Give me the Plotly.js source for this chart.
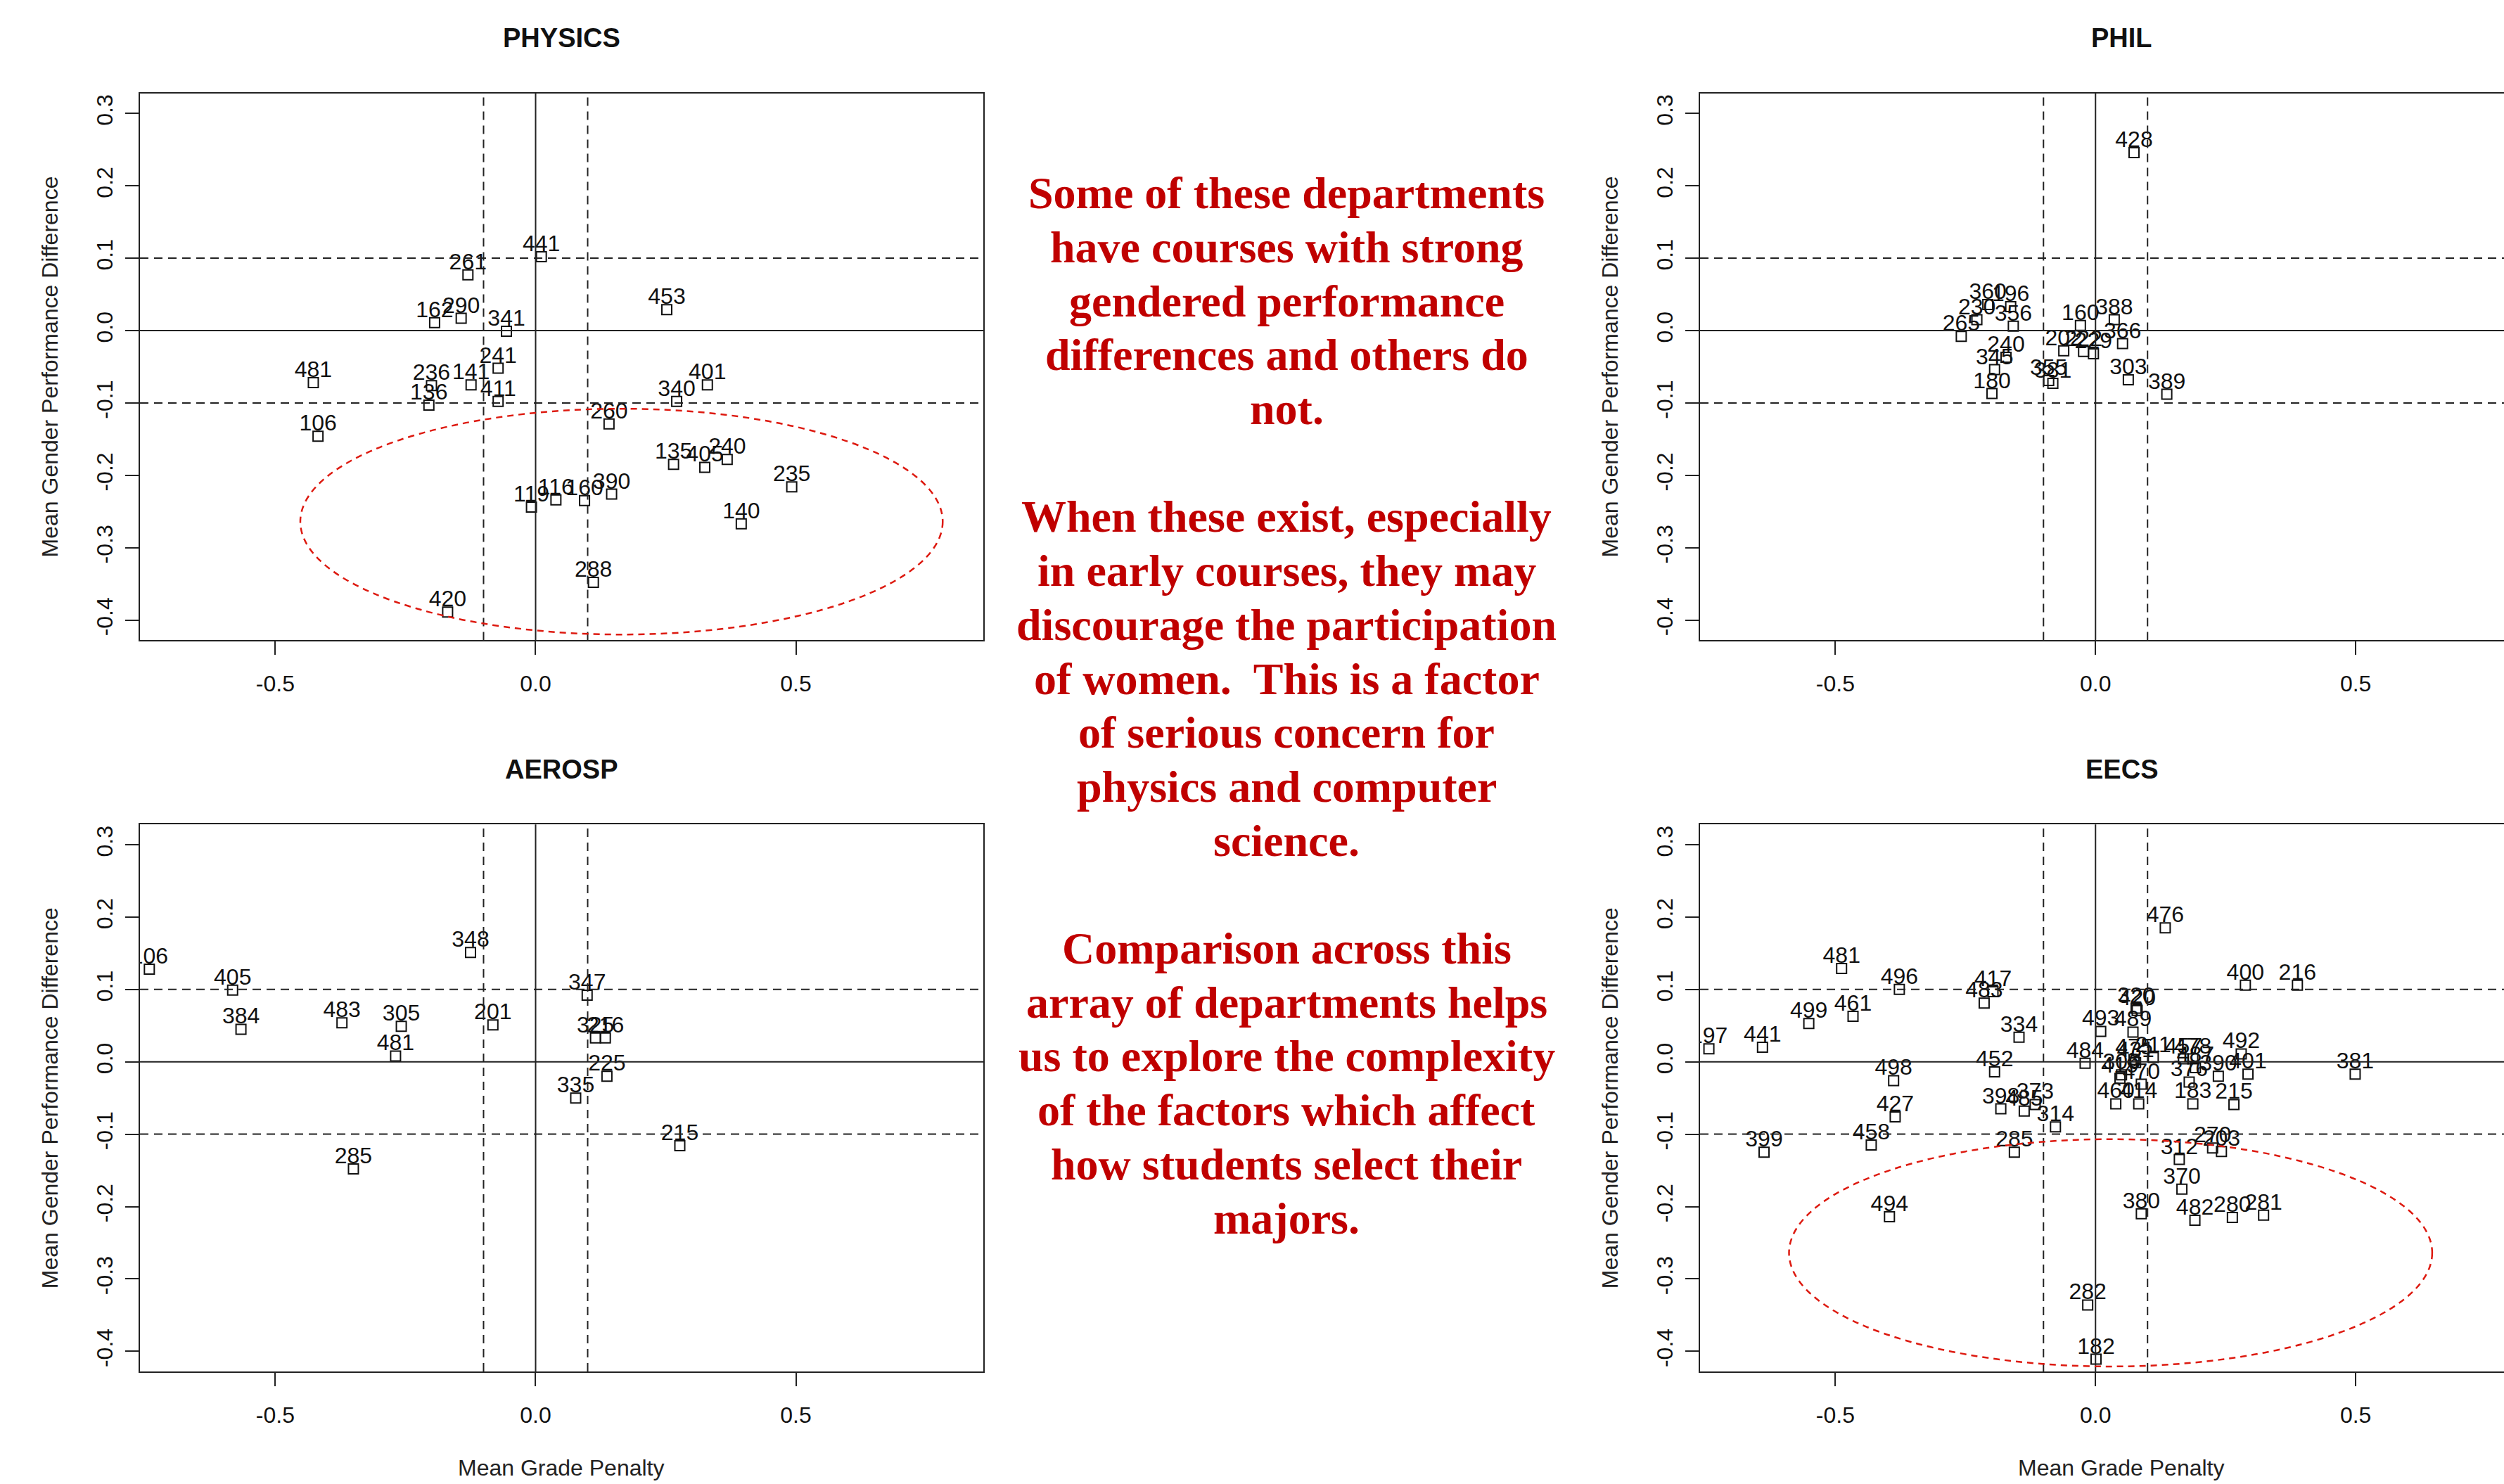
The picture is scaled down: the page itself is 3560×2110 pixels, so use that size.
<!DOCTYPE html>
<html><head><meta charset="utf-8">
<script src="https://cdn.plot.ly/plotly-3.0.1.min.js"></script>
<style>html,body{margin:0;padding:0;background:#fff;}</style>
</head><body>
<div id="chart" style="width:3560px;height:2110px;"></div>
<script>
// ---------------- data ----------------
const physicsLabels = ["441","261","162","290","341","453","241","481","236","141","136","411","106","260","340","401","135","405","240","235","140","119","116","160","390","288","420"];
const physicsX = [0.011,-0.130,-0.194,-0.143,-0.056,0.252,-0.072,-0.427,-0.200,-0.124,-0.205,-0.072,-0.418,0.141,0.271,0.330,0.265,0.325,0.368,0.492,0.395,-0.008,0.039,0.094,0.146,0.111,-0.169];
const physicsY = [0.102,0.077,0.011,0.017,-0.001,0.029,-0.052,-0.072,-0.076,-0.075,-0.103,-0.098,-0.146,-0.129,-0.098,-0.075,-0.185,-0.189,-0.178,-0.216,-0.267,-0.244,-0.234,-0.235,-0.226,-0.348,-0.389];

const philLabels = ["428","360","196","230","356","265","240","345","180","355","381","202","222","229","160","388","366","303","389"];
const philX = [0.074,-0.207,-0.163,-0.228,-0.158,-0.258,-0.172,-0.194,-0.199,-0.090,-0.082,-0.061,-0.023,-0.004,-0.029,0.036,0.052,0.063,0.137];
const philY = [0.246,0.036,0.033,0.015,0.006,-0.008,-0.037,-0.054,-0.087,-0.069,-0.073,-0.028,-0.029,-0.032,0.007,0.015,-0.018,-0.068,-0.088];

const aerospLabels = ["106","405","384","483","305","481","348","201","285","347","325","216","225","335","215"];
const aerospX = [-0.742,-0.582,-0.566,-0.372,-0.258,-0.269,-0.125,-0.082,-0.350,0.099,0.115,0.134,0.137,0.077,0.277];
const aerospY = [0.128,0.099,0.045,0.054,0.049,0.008,0.151,0.051,-0.148,0.092,0.033,0.033,-0.020,-0.050,-0.116];

const eecsLabels = ["197","441","499","481","461","496","498","427","458","399","494","417","483","334","452","398","485","373","314","285",
  "476","400","216","320","420","493","489","484","475","431","211","306","419","470","460","414","457","478","487","376",
  "183","215","390","401","492","381","312","270","203","370","380","482","280","281","282","182"];
const eecsX = [-0.743,-0.640,-0.551,-0.488,-0.466,-0.377,-0.388,-0.385,-0.431,-0.637,-0.396,-0.197,-0.214,-0.147,-0.194,-0.182,-0.137,-0.116,-0.077,-0.156,
  0.134,0.288,0.388,0.078,0.080,0.010,0.072,-0.020,0.074,0.077,0.111,0.050,0.047,0.088,0.039,0.083,0.169,0.187,0.192,0.180,
  0.187,0.266,0.236,0.293,0.280,0.499,0.161,0.225,0.242,0.166,0.088,0.191,0.263,0.323,-0.015,0.001];
const eecsY = [0.018,0.020,0.053,0.129,0.063,0.100,-0.026,-0.076,-0.115,-0.125,-0.214,0.097,0.081,0.034,-0.014,-0.065,-0.068,-0.059,-0.090,-0.125,
  0.185,0.106,0.106,0.074,0.071,0.042,0.041,-0.002,0.003,-0.001,0.006,-0.018,-0.023,-0.031,-0.058,-0.058,0.004,0.004,-0.008,-0.028,
  -0.058,-0.059,-0.020,-0.017,0.011,-0.017,-0.135,-0.119,-0.124,-0.176,-0.210,-0.219,-0.215,-0.212,-0.336,-0.411];

const panelTitles = ["PHYSICS","PHIL","AEROSP","EECS"];
const xTickVals = [-0.5, 0, 0.5];
const xTickText = ["-0.5","0.0","0.5"];
const yTickVals = [-0.4,-0.3,-0.2,-0.1,0,0.1,0.2,0.3];
const yTickText = ["-0.4","-0.3","-0.2","-0.1","0.0","0.1","0.2","0.3"];
const yAxisTitle = "Mean Gender Performance Difference";
const xAxisTitle = "Mean Grade Penalty";
const cutLines = [-0.1, 0.1];   // dashed thresholds
const zeroLines = [0];          // solid

// highlighted regions (centre x, centre y, half-width, half-height), null = none
const ellipseCx = [0.165, null, null, 0.029];
const ellipseCy = [-0.264, null, null, -0.264];
const ellipseRx = [0.617, null, null, 0.618];
const ellipseRy = [0.156, null, null, 0.157];

const noteLines = ["Some of these departments","have courses with strong","gendered performance","differences and others do","not.","",
  "When these exist, especially","in early courses, they may","discourage the participation","of women.\u00a0 This is a factor","of serious concern for","physics and computer","science.","",
  "Comparison across this","array of departments helps","us to explore the complexity","of the factors which affect","how students select their","majors."];

// ---------------- layout helpers ----------------
const W = 3560, H = 2110;
const PX = v => v / W;
const PY = v => 1 - v / H;
const SANS = "Liberation Sans, Arial, sans-serif";
const INK = "#222222";

const panelData = [
  {labels: physicsLabels, x: physicsX, y: physicsY},
  {labels: philLabels, x: philX, y: philY},
  {labels: aerospLabels, x: aerospX, y: aerospY},
  {labels: eecsLabels, x: eecsX, y: eecsY}
];
// pixel geometry of each panel
const colDom = [[199, 1398], [2417, 3560]];
const colRange = [[-0.76, 0.86], [-0.76, 0.785]];
const colCenter = [798, 3016];
const rowDom = [[132.5, 910.4], [1172.2, 1950.1]];
const rowTitleY = [54, 1094];

const traces = [];
const layout = {
  width: W, height: H,
  margin: {l: 0, r: 0, t: 0, b: 0},
  paper_bgcolor: "#ffffff", plot_bgcolor: "#ffffff",
  showlegend: false,
  shapes: [], annotations: []
};

panelData.forEach((p, i) => {
  const col = i % 2, row = Math.floor(i / 2);
  const sfx = i === 0 ? "" : String(i + 1);
  const xa = "x" + sfx, ya = "y" + sfx;
  layout["xaxis" + sfx] = {
    domain: [PX(colDom[col][0]), PX(colDom[col][1])],
    range: colRange[col], anchor: ya,
    showgrid: false, zeroline: false,
    showline: true, mirror: true, linecolor: INK, linewidth: 2,
    ticks: "outside", ticklen: 19, tickwidth: 2, tickcolor: INK,
    tickvals: xTickVals, ticktext: xTickText,
    tickfont: {family: SANS, size: 32, color: "#111"},
    ticklabelstandoff: 13
  };
  layout["yaxis" + sfx] = {
    domain: [PY(rowDom[row][1]), PY(rowDom[row][0])],
    range: [-0.428, 0.328], anchor: xa,
    showgrid: false, zeroline: false,
    showline: true, mirror: col === 0, linecolor: INK, linewidth: 2,
    ticks: "outside", ticklen: 19, tickwidth: 2, tickcolor: INK,
    tickvals: yTickVals, ticktext: yTickText, tickangle: -90,
    tickfont: {family: SANS, size: 32, color: "#111"},
    ticklabelstandoff: 5
  };
  traces.push({
    type: "scatter", mode: "markers", x: p.x, y: p.y, xaxis: xa, yaxis: ya,
    marker: {symbol: "square-open", size: 14, color: "#111", line: {width: 2, color: "#111"}},
    hoverinfo: "skip", cliponaxis: true
  });
  traces.push({
    type: "scatter", mode: "text", x: p.x, y: p.y, text: p.labels, xaxis: xa, yaxis: ya,
    textposition: "top center",
    textfont: {family: SANS, size: 32, color: "#111"},
    hoverinfo: "skip", cliponaxis: true
  });
  // reference lines
  cutLines.forEach(v => {
    layout.shapes.push({type: "line", xref: xa + " domain", yref: ya, x0: 0, x1: 1, y0: v, y1: v,
      line: {color: INK, width: 2, dash: "12px,8px"}});
    layout.shapes.push({type: "line", xref: xa, yref: ya + " domain", x0: v, x1: v, y0: 0, y1: 1,
      line: {color: INK, width: 2, dash: "12px,8px"}});
  });
  zeroLines.forEach(v => {
    layout.shapes.push({type: "line", xref: xa + " domain", yref: ya, x0: 0, x1: 1, y0: v, y1: v,
      line: {color: INK, width: 2}});
    layout.shapes.push({type: "line", xref: xa, yref: ya + " domain", x0: v, x1: v, y0: 0, y1: 1,
      line: {color: INK, width: 2}});
  });
  if (ellipseCx[i] !== null) {
    layout.shapes.push({type: "circle", xref: xa, yref: ya,
      x0: ellipseCx[i] - ellipseRx[i], x1: ellipseCx[i] + ellipseRx[i],
      y0: ellipseCy[i] - ellipseRy[i], y1: ellipseCy[i] + ellipseRy[i],
      line: {color: "#DD1A10", width: 2.5, dash: "9px,7px"}});
  }
  // panel title
  layout.annotations.push({xref: "paper", yref: "paper", x: PX(colCenter[col]), y: PY(rowTitleY[row]),
    text: "<b>" + panelTitles[i] + "</b>", showarrow: false, xanchor: "center", yanchor: "middle",
    font: {family: SANS, size: 38, color: "#111"}});
  // y axis title
  layout.annotations.push({xref: "paper", yref: "paper",
    x: PX(colDom[col][0] - 128), y: PY((rowDom[row][0] + rowDom[row][1]) / 2),
    text: yAxisTitle, textangle: -90, showarrow: false, xanchor: "center", yanchor: "middle",
    font: {family: SANS, size: 32, color: "#222"}});
  // x axis title (bottom row only)
  if (row === 1) {
    layout.annotations.push({xref: "paper", yref: "paper", x: PX(colCenter[col]), y: PY(2087),
      text: xAxisTitle, showarrow: false, xanchor: "center", yanchor: "middle",
      font: {family: SANS, size: 32, color: "#222"}});
  }
});

// centre commentary
noteLines.forEach((t, k) => {
  if (!t) return;
  layout.annotations.push({xref: "paper", yref: "paper", x: PX(1829), y: PY(274.7 + k * 76.7),
    text: "<b>" + t + "</b>", showarrow: false, xanchor: "center", yanchor: "middle",
    font: {family: "Liberation Serif, Times New Roman, serif", size: 64, color: "#C00000"}});
});

Plotly.newPlot("chart", traces, layout, {staticPlot: true, displayModeBar: false});
</script>
</body></html>
